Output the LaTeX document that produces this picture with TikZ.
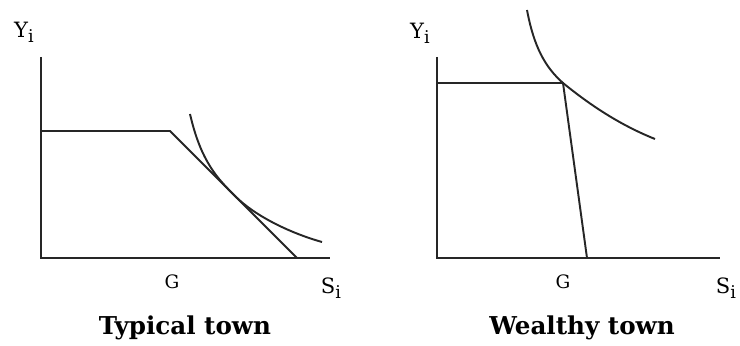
\documentclass[tikz,border=0pt]{standalone}
\usepackage{fontspec}
\setmainfont{DejaVu Serif}
\usetikzlibrary{positioning}

\newcommand{\lowi}{\raisebox{-0.45ex}{\fontsize{10}{12}\selectfont i}}

\tikzset{
  curve/.style={line width=1.1pt, black!85},
  axislabel/.style={font=\fontsize{12}{14}\selectfont, inner sep=0pt},
  ticklabel/.style={font=\fontsize{10.5}{12}\selectfont, inner sep=0pt},
  townlabel/.style={font=\bfseries\fontsize{14}{16}\selectfont, inner sep=0pt}
}

\begin{document}
\begin{tikzpicture}[x=0.02cm, y=0.02cm]
    \useasboundingbox (0,0) rectangle (740,345);

    % Typical town: axes
    \coordinate (oA) at (41,87);
    \coordinate (yA) at (41,288);
    \coordinate (xA) at (330,87);
    \draw[curve] (yA) -- (oA) -- (xA);

    % Typical town: budget line with kink
    \coordinate (bA) at (41,214);
    \coordinate (kA) at (170,214);
    \coordinate (fA) at (297,87);
    \draw[curve] (bA) -- (kA) -- (fA);

    % Typical town: indifference curve
    \coordinate (cA1) at (190,231);
    \coordinate (tA) at (235,149);
    \coordinate (cA2) at (322,103);
    \draw[curve] (cA1) .. controls (201,183) and (218,166) .. (tA)
                       .. controls (255,129) and (290,112) .. (cA2);

    \node[axislabel] (YA) at (24,313) {Y\lowi};
    \node[ticklabel] (GA) at (172,63) {G};
    \node[axislabel] (SA) at (331,57) {S\lowi};
    \node[townlabel] (TA) at (185,17) {Typical town};

    % Wealthy town: axes
    \coordinate (oB) at (437,87);
    \coordinate (yB) at (437,288);
    \coordinate (xB) at (720,87);
    \draw[curve] (yB) -- (oB) -- (xB);

    % Wealthy town: budget line with kink
    \coordinate (bB) at (437,262);
    \coordinate (kB) at (563,262);
    \coordinate (fB) at (587,87);
    \draw[curve] (bB) -- (kB) -- (fB);

    % Wealthy town: indifference curve
    \coordinate (cB1) at (527,335);
    \coordinate (cB2) at (655,206);
    \draw[curve] (cB1) .. controls (534,298) and (545,278) .. (kB)
                       .. controls (590,240) and (620,220) .. (cB2);

    \node[axislabel] (YB) at (420,312) {Y\lowi};
    \node[ticklabel] (GB) at (563,63) {G};
    \node[axislabel] (SB) at (726,57) {S\lowi};
    \node[townlabel] (TB) at (582,17) {Wealthy town};
\end{tikzpicture}
\end{document}
